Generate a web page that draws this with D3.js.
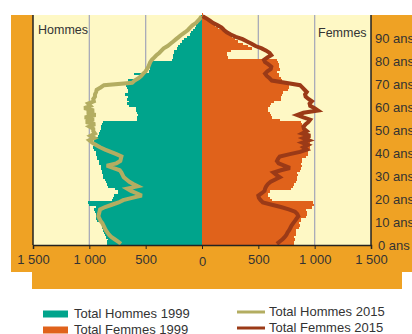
<!DOCTYPE html>
<html><head><meta charset="utf-8">
<script src="https://cdn.jsdelivr.net/npm/d3@7"></script>
<style>
html,body{margin:0;padding:0;background:#fff;}
svg{display:block;font-family:"Liberation Sans",Arial,sans-serif;}
</style></head>
<body>
<svg id="c" width="412" height="334"></svg>
<script>
// ---- data (ages 0..100) ----
const ages = d3.range(0, 101);
const hommes1999 = [840,845,835,850,865,870,875,885,890,895,
 935,940,945,940,950,955,945,1000,1010,800,
 790,780,750,745,770,830,845,850,860,875,
 880,885,890,895,900,910,915,930,935,940,
 945,960,965,960,950,955,940,925,915,905,
 895,900,890,880,580,575,570,580,585,590,
 650,665,645,670,655,680,660,655,670,675,
 680,660,560,545,600,470,465,460,455,460,
 265,260,255,250,250,225,215,195,180,160,
 130,110,95,80,65,50,38,25,14,7,3];
const femmes1999 = [815,820,825,820,830,835,830,860,870,865,
 875,880,920,930,935,925,980,995,985,620,
 600,590,585,600,790,810,815,830,840,845,
 850,840,870,880,885,880,890,885,920,940,
 945,950,955,960,958,955,960,940,930,920,
 900,905,890,880,690,620,615,600,590,590,
 600,610,640,700,705,710,720,760,770,770,
 765,710,705,680,680,670,690,680,680,675,
 670,230,220,225,260,440,410,360,320,295,
 270,240,200,175,145,115,90,65,45,25,10];
const hommes2015 = [720,745,775,805,825,840,855,865,875,885,
 900,910,920,915,910,905,860,800,740,700,
 620,535,580,630,665,570,610,645,670,695,
 705,715,730,790,845,760,725,720,715,760,
 810,860,905,940,975,1000,955,990,950,965,
 965,1000,950,1030,960,1040,945,1020,960,1045,
 990,1010,960,965,950,950,940,935,900,870,
 620,598,565,540,522,500,488,476,468,460,
 445,425,405,380,360,340,305,280,255,230,
 205,180,150,125,106,85,55,35,18,3];
const femmes2015 = [665,690,715,735,750,760,775,785,795,810,
 825,840,855,845,825,770,700,620,540,520,
 505,500,530,555,560,570,585,610,650,690,
 660,635,700,780,730,680,665,675,690,780,
 870,930,900,940,890,950,900,960,890,930,
 905,900,920,945,960,900,845,900,1030,1000,
 960,955,975,945,920,915,930,910,890,870,
 740,620,600,575,560,580,610,615,590,560,
 550,580,615,600,570,530,475,440,400,360,
 300,255,220,195,175,140,100,70,40,5];
const tickValues = [-1500,-1000,-500,0,500,1000,1500];
const tickLabels = ["1 500","1 000","500","0","500","1 000","1 500"];
const ageTicks = [0,10,20,30,40,50,60,70,80,90];
const legendItems = [
  {label:"Total Hommes 1999", kind:"rect", color:"#00a48c"},
  {label:"Total Femmes 1999", kind:"rect", color:"#e0621b"},
  {label:"Total Hommes 2015", kind:"line", color:"#b3ad61"},
  {label:"Total Femmes 2015", kind:"line", color:"#9b3a17"}
];

// ---- layout ----
const svg = d3.select("#c");
const L = 33, R = 371, T = 15, B = 245;
const x = d3.scaleLinear().domain([-1500,1500]).range([L,R]);
const y = d3.scaleLinear().domain([0,100]).range([B,T]);

// background panels
svg.append("rect").attr("x",11).attr("y",15).attr("width",401).attr("height",257).attr("fill","#efa224");
svg.append("rect").attr("x",32).attr("y",271).attr("width",370).attr("height",18).attr("fill","#efa224");
svg.append("rect").attr("x",L).attr("y",T).attr("width",R-L).attr("height",B-T).attr("fill","#fef8c5");

// gridlines
svg.append("g").selectAll("line").data([-1000,-500,500,1000]).join("line")
  .attr("x1",d=>x(d)).attr("x2",d=>x(d)).attr("y1",T).attr("y2",B)
  .attr("stroke","#a9abb9").attr("stroke-width",1.3);

// bars
const bh = y(0)-y(1);
svg.append("g").attr("shape-rendering","crispEdges").selectAll("rect").data(ages).join("rect")
  .attr("x",a=>x(-hommes1999[a])).attr("width",a=>x(0)-x(-hommes1999[a]))
  .attr("y",a=>y(a+1)).attr("height",bh+0.4).attr("fill","#00a48c");
svg.append("g").attr("shape-rendering","crispEdges").selectAll("rect").data(ages).join("rect")
  .attr("x",x(0)).attr("width",a=>x(femmes1999[a])-x(0))
  .attr("y",a=>y(a+1)).attr("height",bh+0.4).attr("fill","#e0621b");

// lines 2015
const ages15 = d3.range(0,100);
const lineH = d3.line().x(a=>x(-hommes2015[a])).y(a=>y(a+0.5));
const lineF = d3.line().x(a=>x(femmes2015[a])).y(a=>y(a+0.5));
svg.append("path").datum(ages15).attr("d",lineH).attr("fill","none")
  .attr("stroke","#b3ad61").attr("stroke-width",4).attr("stroke-linejoin","miter").attr("stroke-miterlimit",3);
svg.append("path").datum(ages15).attr("d",lineF).attr("fill","none")
  .attr("stroke","#9b3a17").attr("stroke-width",4).attr("stroke-linejoin","miter").attr("stroke-miterlimit",3);

// axes frame
svg.append("line").attr("x1",L).attr("x2",L).attr("y1",T).attr("y2",B).attr("stroke","#222").attr("stroke-width",1.5);
svg.append("line").attr("x1",R).attr("x2",R).attr("y1",T).attr("y2",B).attr("stroke","#222").attr("stroke-width",1.5);
const xAxis = d3.axisBottom(x).tickValues(tickValues).tickSize(4)
  .tickFormat((d,i)=>tickLabels[i]);
const gx = svg.append("g").attr("transform",`translate(0,${B})`).call(xAxis);
gx.select(".domain").attr("stroke","#222").attr("stroke-width",1.5);
gx.selectAll(".tick line").attr("stroke","#222");
gx.selectAll(".tick text").attr("font-size",13).attr("fill","#333").attr("y",9)
  .attr("dy",(d)=> d===0 ? "0.95em" : "0.8em").attr("font-family","Liberation Sans, Arial, sans-serif");

// age labels
svg.append("g").selectAll("text").data(ageTicks).join("text")
  .attr("x",a=> a===0 ? 378 : 375).attr("y",a=>y(a)).attr("dy","0.36em")
  .attr("font-size",13).attr("fill","#333").text(a=>a+" ans");

// panel titles
svg.append("text").attr("x",38).attr("y",29).attr("dy","0.36em").attr("font-size",12.5).attr("fill","#333").text("Hommes");
svg.append("text").attr("x",318).attr("y",32).attr("dy","0.36em").attr("font-size",12.5).attr("fill","#333").text("Femmes");

// legend
const lpos = [{x:43,y:314},{x:43,y:330},{x:237,y:312},{x:237,y:328}];
const lg = svg.append("g");
legendItems.forEach((d,i)=>{
  const p = lpos[i];
  if(d.kind==="rect"){
    lg.append("rect").attr("x",p.x).attr("y",p.y-3.5).attr("width",25).attr("height",7).attr("fill",d.color);
    lg.append("text").attr("x",p.x+31).attr("y",p.y-1).attr("dy","0.36em").attr("font-size",13).attr("fill","#333").text(d.label);
  } else {
    lg.append("line").attr("x1",p.x).attr("x2",p.x+28).attr("y1",p.y).attr("y2",p.y)
      .attr("stroke",d.color).attr("stroke-width",3);
    lg.append("text").attr("x",p.x+32).attr("y",p.y-1).attr("dy","0.36em").attr("font-size",13).attr("fill","#333").text(d.label);
  }
});
</script>
</body></html>
